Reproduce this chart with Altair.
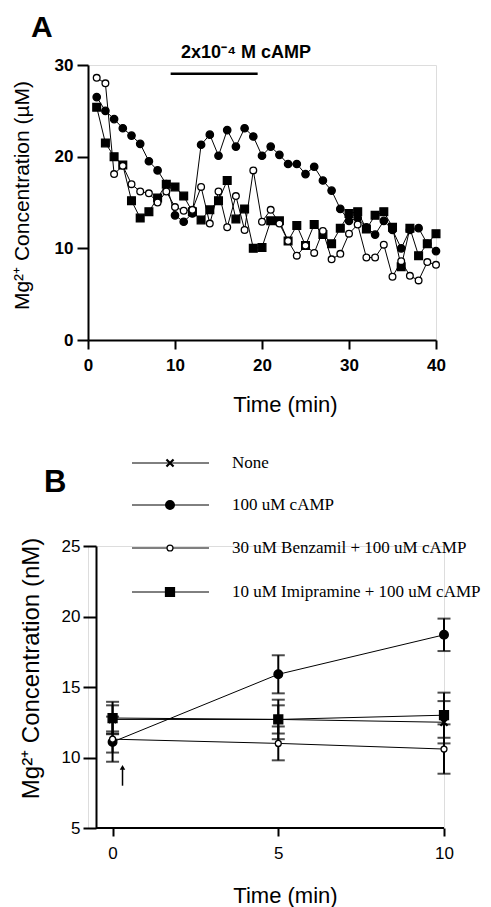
import altair as alt
import pandas as pd

# ---------------- Panel A data ----------------
time_a = list(range(1, 41))
filled_circle_a = [26.5, 25.0, 24.1, 23.1, 22.3, 21.4, 19.5, 18.5, 17.0, 13.6,
                   12.9, 13.8, 21.3, 22.4, 20.1, 22.9, 21.1, 23.1, 22.2, 20.1,
                   21.1, 20.2, 19.2, 19.2, 18.1, 18.9, 17.4, 16.3, 14.3, 13.0,
                   13.3, 12.3, 11.5, 13.0, 12.0, 10.0, 12.0, 12.2, 10.5, 9.7]
open_circle_a = [28.6, 28.0, 18.1, 19.0, 17.0, 16.2, 16.0, 15.0, 16.2, 14.5,
                 14.1, 14.2, 16.7, 12.7, 16.2, 12.3, 15.7, 12.0, 18.5, 12.9,
                 14.2, 12.7, 10.8, 9.2, 10.3, 9.5, 11.9, 8.8, 9.4, 11.6,
                 12.6, 9.0, 9.0, 10.4, 6.9, 8.6, 7.0, 6.5, 8.5, 8.2]
filled_square_a = [25.4, 21.5, 20.0, 19.1, 15.2, 13.3, 14.0, 15.5, 17.0, 16.7,
                   15.7, 14.0, 13.1, 14.2, 15.2, 17.4, 13.2, 14.3, 10.0, 10.1,
                   13.0, 13.0, 10.8, 12.5, 10.3, 12.6, 11.5, 10.5, 12.2, 13.8,
                   14.0, 12.1, 13.6, 14.0, 12.3, 8.0, 12.2, 9.2, 10.5, 11.6]
camp_bar_t = [9.5, 19.5]
camp_bar_y = [29.05]
camp_text = ["2x10\u207b\u2074 M cAMP"]
camp_text_t = [10.7]
camp_text_y = [31.35]

# ---------------- Panel B data ----------------
time_b = [0, 5, 10]
b_labels = ["None", "100 uM cAMP", "30 uM Benzamil + 100 uM cAMP",
            "10 uM Imipramine + 100 uM cAMP"]
none_mean = [12.7, 12.7, 12.5]
none_err = [1.0, 1.0, 1.5]
camp_mean = [11.1, 15.9, 18.7]
camp_err = [0.75, 1.35, 1.15]
benz_mean = [11.3, 11.0, 10.6]
benz_err = [1.6, 1.2, 1.75]
imip_mean = [12.8, 12.7, 13.0]
imip_err = [1.15, 1.4, 1.6]
arrow_t = [0.3]
arrow_lo = [8.0]
arrow_hi = [9.3]
b_axis_t = [-0.5, 10]
b_axis_y = [5]

FONT = "Liberation Sans"
AX = dict(grid=False, domainColor="black", domainWidth=2, tickColor="black",
          tickWidth=2, labelColor="black", titleColor="black", labelFont=FONT,
          titleFont=FONT, labelFlush=False, titleFontWeight="normal")

# ---------------- Panel A ----------------
xA = alt.X("t:Q", scale=alt.Scale(domain=[0, 40], nice=False),
           axis=alt.Axis(values=[0, 10, 20, 30, 40], title="Time (min)",
                         tickSize=9, labelPadding=8, labelFontSize=17,
                         labelFontWeight="bold", titleFontSize=22, titlePadding=21,
                         titleX=197, **AX))
yA = alt.Y("v:Q", scale=alt.Scale(domain=[0, 30], nice=False),
           axis=alt.Axis(values=[0, 10, 20, 30], title="Mg\u00b2\u207a Concentration (\u00b5M)",
                         tickSize=11, labelPadding=4, labelFontSize=17,
                         labelFontWeight="bold", titleFontSize=21, titlePadding=22,
                         titleY=130, **AX))


def series_a(vals, shape, fill, size):
    df = pd.DataFrame({"t": time_a, "v": vals})
    line = alt.Chart(df).mark_line(color="black", strokeWidth=1).encode(x=xA, y=yA)
    pts = alt.Chart(df).mark_point(shape=shape, filled=True, fill=fill, stroke="black",
                                   strokeWidth=1.3, size=size, opacity=1).encode(x=xA, y=yA)
    return [line, pts]


bar_df = pd.DataFrame({"t": [camp_bar_t[0]], "t2": [camp_bar_t[1]], "v": camp_bar_y})
bar = alt.Chart(bar_df).mark_rule(color="black", strokeWidth=2.5).encode(
    x=xA, x2="t2:Q", y=yA)
txt_df = pd.DataFrame({"t": camp_text_t, "v": camp_text_y, "s": camp_text})
txt = alt.Chart(txt_df).mark_text(align="left", baseline="middle", fontSize=18,
                                  fontWeight="bold", font=FONT, color="black").encode(
    x=xA, y=yA, text="s:N")
labA = alt.Chart(pd.DataFrame({"s": ["A"]})).mark_text(
    align="left", baseline="alphabetic", fontSize=30, fontWeight="bold", font=FONT,
    color="black").encode(x=alt.value(-57), y=alt.value(-28), text="s:N")
# invisible rule that fixes the top of the layout above panel A
topA = alt.Chart(pd.DataFrame({"s": ["top"]})).mark_rule(opacity=0).encode(
    x=alt.value(0), x2=alt.value(10), y=alt.value(-56))

panelA = alt.layer(
    *series_a(filled_circle_a, "circle", "black", 55),
    *series_a(filled_square_a, "square", "black", 60),
    *series_a(open_circle_a, "circle", "white", 45),
    bar, txt, labA, topA,
).properties(width=348, height=275)

# ---------------- Panel B ----------------
# plot area starts 8px left of the y axis (axis offset -8), domain extended accordingly
B_DOM = [-0.5 - 8 * 10.5 / 348, 10]
yscaleB = alt.Scale(domain=[5, 25], nice=False)
xB = alt.X("t:Q", scale=alt.Scale(domain=B_DOM, nice=False),
           axis=alt.Axis(values=[0, 5, 10], title="Time (min)", tickSize=8,
                         labelPadding=9, labelFontSize=17, titleFontSize=22,
                         titlePadding=24, titleX=197, domain=False, **AX))
yB = alt.Y("v:Q", scale=yscaleB,
           axis=alt.Axis(values=[5, 10, 15, 20, 25], title="Mg\u00b2\u207a Concentration (nM)",
                         tickSize=13, labelPadding=3, labelFontSize=17,
                         titleFontSize=24, titlePadding=18, titleY=122, offset=-8, **AX))

legend_y = [-83, -41, 2, 46]
X_PATH = "M-1,-1L1,1M-1,1L1,-1"


def point_mark(shape, fill, size):
    if shape == X_PATH:
        return dict(shape=shape, filled=False, stroke="black", strokeWidth=2.2,
                    size=size, opacity=1)
    return dict(shape=shape, filled=True, fill=fill, stroke="black", strokeWidth=1.3,
                size=size, opacity=1)


def series_b(idx, mean, err, shape, fill, size):
    df = pd.DataFrame({"t": time_b, "v": mean,
                       "lo": [m - e for m, e in zip(mean, err)],
                       "hi": [m + e for m, e in zip(mean, err)]})
    line = alt.Chart(df).mark_line(color="black", strokeWidth=1).encode(x=xB, y=yB)
    rule = alt.Chart(df).mark_rule(color="black", strokeWidth=2).encode(
        x=xB, y=alt.Y("lo:Q", scale=yscaleB), y2="hi:Q")
    caps = [alt.Chart(df).mark_tick(color="black", thickness=2, size=13,
                                    orient="horizontal").encode(
        x=xB, y=alt.Y(f"{c}:Q", scale=yscaleB)) for c in ("lo", "hi")]
    pts = alt.Chart(df).mark_point(**point_mark(shape, fill, size)).encode(x=xB, y=yB)
    ldf = pd.DataFrame({"s": [b_labels[idx]]})
    lrule = alt.Chart(ldf).mark_rule(color="black", strokeWidth=1).encode(
        x=alt.value(44), x2=alt.value(121), y=alt.value(legend_y[idx]))
    lpt = alt.Chart(ldf).mark_point(**point_mark(shape, fill, size)).encode(
        x=alt.value(82), y=alt.value(legend_y[idx]))
    ltxt = alt.Chart(ldf).mark_text(align="left", baseline="middle", fontSize=17,
                                    font="Liberation Serif", color="black").encode(
        x=alt.value(144), y=alt.value(legend_y[idx]), text="s:N")
    return [line, rule, *caps, pts, lrule, lpt, ltxt]


axis_df = pd.DataFrame({"t": [b_axis_t[0]], "t2": [b_axis_t[1]], "v": b_axis_y})
b_xaxis_line = alt.Chart(axis_df).mark_rule(color="black", strokeWidth=2).encode(
    x=xB, x2="t2:Q", y=yB)
arrow_df = pd.DataFrame({"t": arrow_t, "v": arrow_lo, "hi": arrow_hi})
arrow_line = alt.Chart(arrow_df).mark_rule(color="black", strokeWidth=1.5).encode(
    x=xB, y=yB, y2="hi:Q")
arrow_head = alt.Chart(arrow_df).mark_point(shape="triangle-up", filled=True,
                                            color="black", size=30, opacity=1).encode(
    x=xB, y=alt.Y("hi:Q", scale=yscaleB))
labB = alt.Chart(pd.DataFrame({"s": ["B"]})).mark_text(
    align="left", baseline="alphabetic", fontSize=31, fontWeight="bold", font=FONT,
    color="black").encode(x=alt.value(-44), y=alt.value(-54), text="s:N")

panelB = alt.layer(
    b_xaxis_line,
    *series_b(0, none_mean, none_err, X_PATH, "black", 50),
    *series_b(1, camp_mean, camp_err, "circle", "black", 75),
    *series_b(2, benz_mean, benz_err, "circle", "white", 35),
    *series_b(3, imip_mean, imip_err, "square", "black", 80),
    arrow_line, arrow_head, labB,
).properties(width=356, height=282)

chart = alt.vconcat(panelA, panelB, spacing=37).properties(
    padding={"left": 2, "top": 0, "right": 0, "bottom": 0}
).configure_view(stroke=None).configure(background="white")

chart.save("out.html", embed_options={"renderer": "svg", "actions": False})
